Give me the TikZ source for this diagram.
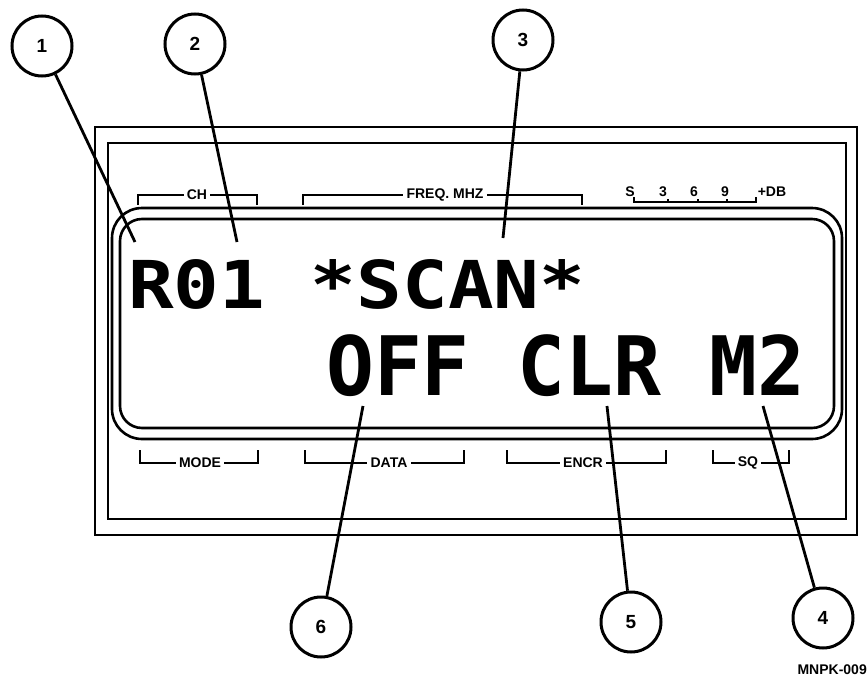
\documentclass[tikz,border=0pt]{standalone}
\usepackage{fontspec}
\setmainfont{Liberation Sans}
\newfontfamily\lcdfont{DejaVu Sans Mono}
\usepackage{tikz}
\usetikzlibrary{positioning, calc}

\begin{document}
\begin{tikzpicture}[
    x=1pt, y=-1pt,
    frame/.style={draw=black, line width=2.4pt},
    lcdframe/.style={draw=black, line width=2.6pt},
    callout/.style={circle, draw=black, line width=3pt, minimum size=60pt, inner sep=0pt, font=\bfseries\fontsize{19}{19}\selectfont},
    leader/.style={line width=2.8pt},
    bracket/.style={line width=1.4pt},
    tag/.style={inner sep=3pt, font=\bfseries\fontsize{14}{14}\selectfont},
    lcdtop/.style={anchor=base west, inner sep=0pt, xscale=1.15, font=\lcdfont\bfseries\fontsize{66}{66}\selectfont},
    lcdbot/.style={anchor=base west, inner sep=0pt, xscale=0.97, font=\lcdfont\bfseries\fontsize{82}{82}\selectfont}
]
    \useasboundingbox (0,0) rectangle (868,680);

    % Frame
    \draw[frame] (95,127) rectangle (857,535);
    \draw[frame] (108,143) rectangle (846,519);

    % Display window
    \draw[lcdframe, rounded corners=30pt] (112,208) rectangle (842,439);
    \draw[lcdframe, rounded corners=22pt] (120,219) rectangle (834,428);

    % Display text
    \node[lcdtop] (line1) at (128,308) {R01 *SCAN*};
    \node[lcdbot] (line2) at (326,395) {OFF CLR M2};

    % Upper legends
    \node[tag] (ch) at (197,195) {CH};
    \draw[bracket] (138,205) |- (ch.west);
    \draw[bracket] (257,205) |- (ch.east);
    \node[tag] (freq) at (445,195) {FREQ. MHZ};
    \draw[bracket] (303,205) |- (freq.west);
    \draw[bracket] (582,205) |- (freq.east);
    \node[tag] (sm) at (630,192) {S};
    \node[tag] (s3) at (663,192) {3};
    \node[tag] (s6) at (694,192) {6};
    \node[tag] (s9) at (725,192) {9};
    \node[tag] (sdb) at (772,192) {+DB};
    \draw[bracket] (634,197) -- (634,202) -- (756,202) -- (756,197);
    \foreach \tx in {668,698,727}
        \draw[bracket] (\tx,199) -- (\tx,202);

    % Lower legends
    \node[tag] (mode) at (200,463) {MODE};
    \draw[bracket] (140,450) |- (mode.west);
    \draw[bracket] (258,450) |- (mode.east);
    \node[tag] (data) at (389,463) {DATA};
    \draw[bracket] (305,450) |- (data.west);
    \draw[bracket] (464,450) |- (data.east);
    \node[tag] (encr) at (583,463) {ENCR};
    \draw[bracket] (507,450) |- (encr.west);
    \draw[bracket] (666,450) |- (encr.east);
    \node[tag] (sq) at (748,463) {SQ};
    \draw[bracket] (713,450) |- (sq.west);
    \draw[bracket] (789,450) |- (sq.east);

    % Callouts
    \node[callout] (c1) at (42,46) {1};
    \node[callout] (c2) at (195,44) {2};
    \node[callout] (c3) at (523,40) {3};
    \node[callout] (c6) at (321,627) {6};
    \node[callout] (c5) at (631,622) {5};
    \node[callout] (c4) at (823,618) {4};

    % Leader ends
    \coordinate (p1) at (135,242);
    \coordinate (p2) at (237,242);
    \coordinate (p3) at (503,238);
    \coordinate (p6) at (363,406);
    \coordinate (p5) at (607,406);
    \coordinate (p4) at (763,406);

    % Leaders
    \draw[leader] (c1) -- (p1);
    \draw[leader] (c2) -- (p2);
    \draw[leader] (c3) -- (p3);
    \draw[leader] (c6) -- (p6);
    \draw[leader] (c5) -- (p5);
    \draw[leader] (c4) -- (p4);

    \node[anchor=east, inner sep=0pt, font=\bfseries\fontsize{14}{14}\selectfont] (fig) at (867,670) {MNPK-009};
\end{tikzpicture}
\end{document}
